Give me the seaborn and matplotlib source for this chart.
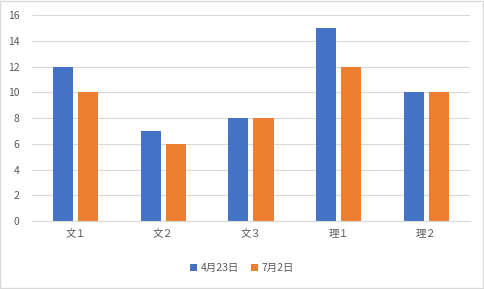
import matplotlib
matplotlib.use("Agg")
import matplotlib.pyplot as plt
import seaborn as sns
import pandas as pd
from matplotlib.patches import Rectangle

categories = ["文１", "文２", "文３", "理１", "理２"]
series_names = ["4月23日", "7月2日"]
apr23 = [12, 7, 8, 15, 10]
jul2 = [10, 6, 8, 12, 10]
yticks = [0, 2, 4, 6, 8, 10, 12, 14, 16]

df = pd.DataFrame({
    "cat": categories * 2,
    "series": [series_names[0]] * 5 + [series_names[1]] * 5,
    "value": apr23 + jul2,
})

sns.set_theme(style="white")
plt.rcParams['font.family'] = ['Noto Sans CJK JP', 'DejaVu Sans']

fig = plt.figure(figsize=(4.84, 2.89), dpi=100)
ax = fig.add_axes([0.066, 0.235, 0.905, 0.713])
sns.barplot(data=df, x="cat", y="value", hue="series",
            palette=["#4472C4", "#ED7D31"], width=0.572, gap=0.2,
            saturation=1, ax=ax, legend=True, linewidth=0, edgecolor="none")

ax.set_ylim(0, 16)
ax.set_yticks(yticks)
ax.set_xlim(-0.5, 4.5)
ax.yaxis.grid(True, color="#D9D9D9", linewidth=0.8)
ax.set_axisbelow(True)
for s in ["top", "right", "left"]:
    ax.spines[s].set_visible(False)
ax.spines["bottom"].set_color("#D9D9D9")
ax.spines["bottom"].set_linewidth(0.8)
ax.tick_params(axis="both", length=0, colors="#595959", labelsize=7.5)
ax.tick_params(axis="y", pad=9)
ax.tick_params(axis="x", pad=5)
ax.set_xlabel("")
ax.set_ylabel("")

leg = ax.legend(loc="center", frameon=False, ncol=2, fontsize=7.5,
                handlelength=0.7, handleheight=0.7,
                columnspacing=1.2, handletextpad=0.3)
leg.set_bbox_to_anchor((0.5, 1 - 268 / 289), transform=fig.transFigure)
for t in leg.get_texts():
    t.set_color("#595959")

fig.patches.append(Rectangle((0.001, 0.002), 0.997, 0.995, transform=fig.transFigure,
                             fill=False, edgecolor="#D9D9D9", linewidth=1))

fig.savefig("out.png", dpi=100, facecolor="white")
